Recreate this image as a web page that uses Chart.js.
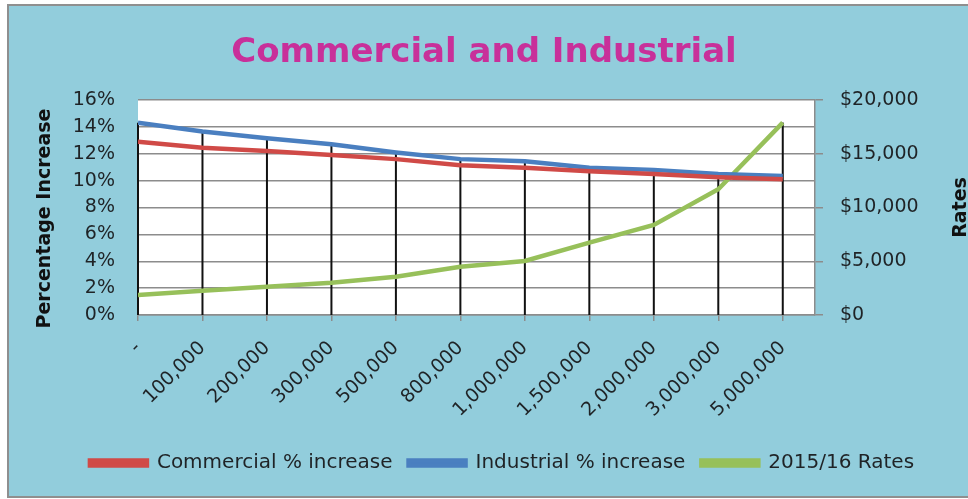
<!DOCTYPE html>
<html>
<head>
<meta charset="utf-8">
<script src="https://cdn.jsdelivr.net/npm/chart.js@4/dist/chart.umd.min.js"></script>
<style>
  html, body { margin: 0; padding: 0; background: #ffffff; }
  #wrap { position: relative; width: 968px; height: 499px; }
</style>
</head>
<body>
<div id="wrap"><canvas id="chart" width="968" height="499"></canvas></div>
<script>
const sizeBands = ['-', '100,000', '200,000', '300,000', '500,000', '800,000', '1,000,000', '1,500,000', '2,000,000', '3,000,000', '5,000,000'];
const commercialIncrease = [12.9, 12.45, 12.2, 11.9, 11.6, 11.15, 10.95, 10.7, 10.5, 10.25, 10.1];
const industrialIncrease = [14.3, 13.65, 13.15, 12.7, 12.1, 11.6, 11.45, 10.95, 10.8, 10.5, 10.35];
const rates201516 = [1850, 2250, 2630, 3000, 3550, 4480, 5030, 6730, 8370, 11700, 17900];
const percentTicks = [0, 2, 4, 6, 8, 10, 12, 14, 16];
const rateTicks = [0, 5000, 10000, 15000, 20000];

const tickFont = { family: 'DejaVu Sans', size: 19 };
const textColor = '#1f2326';
const gridGray = '#8c8c8c';

// paints the blue chart box and the white plot area
const backdrop = {
    id: 'backdrop',
    beforeDraw(chart) {
        const { ctx, chartArea } = chart;
        ctx.save();
        ctx.fillStyle = '#92cddc';
        ctx.fillRect(8, 5, 970, 492);
        ctx.strokeStyle = '#8f8f8f';
        ctx.lineWidth = 2;
        ctx.strokeRect(8, 5, 970, 492);
        ctx.fillStyle = '#ffffff';
        ctx.fillRect(chartArea.left, chartArea.top, chartArea.right - chartArea.left, chartArea.bottom - chartArea.top);
        ctx.restore();
    },
};

// Excel legend sits a bit right of centre
const legendShift = {
    id: 'legendShift',
    afterLayout(chart) {
        if (!chart.legend) return;
        chart.legend.left += 18;
        chart.legend.right += 18;
    },
};

// Excel style drop lines from the highest point at each category
const dropLines = {
    id: 'dropLines',
    beforeDatasetsDraw(chart) {
        const { ctx, chartArea } = chart;
        const metas = chart.getSortedVisibleDatasetMetas();
        ctx.save();
        ctx.strokeStyle = '#111111';
        ctx.lineWidth = 2;
        sizeBands.forEach((_, i) => {
            const pts = metas.map(m => m.data[i]).filter(Boolean);
            if (!pts.length) return;
            const top = Math.min(...pts.map(p => p.y));
            ctx.beginPath();
            ctx.moveTo(pts[0].x, top);
            ctx.lineTo(pts[0].x, chartArea.bottom);
            ctx.stroke();
        });
        ctx.restore();
    },
};

// both axis titles read bottom to top
const axisTitles = {
    id: 'axisTitles',
    afterDraw(chart) {
        const { ctx, chartArea } = chart;
        const midY = (chartArea.top + chartArea.bottom) / 2;
        ctx.save();
        ctx.fillStyle = '#111111';
        ctx.font = 'bold 19px "DejaVu Sans"';
        ctx.textAlign = 'center';
        ctx.textBaseline = 'middle';
        [['Percentage Increase', 45, midY + 11], ['Rates', 961, midY]].forEach(([text, x, y]) => {
            ctx.save();
            ctx.translate(x, y);
            ctx.rotate(-Math.PI / 2);
            ctx.fillText(text, 0, 0);
            ctx.restore();
        });
        ctx.restore();
    },
};

new Chart(document.getElementById('chart'), {
    type: 'line',
    data: {
        datasets: [
            {
                label: 'Commercial % increase',
                data: commercialIncrease.map((v, i) => ({ x: i, y: v })),
                borderColor: '#d04a47',
                backgroundColor: '#d04a47',
                borderWidth: 4.5,
                yAxisID: 'y',
            },
            {
                label: 'Industrial % increase',
                data: industrialIncrease.map((v, i) => ({ x: i, y: v })),
                borderColor: '#4a7fc0',
                backgroundColor: '#4a7fc0',
                borderWidth: 4.5,
                yAxisID: 'y',
            },
            {
                label: '2015/16 Rates',
                data: rates201516.map((v, i) => ({ x: i, y: v })),
                borderColor: '#97c05a',
                backgroundColor: '#97c05a',
                borderWidth: 4.5,
                yAxisID: 'y1',
            },
        ],
    },
    options: {
        responsive: false,
        animation: false,
        tension: 0,
        pointRadius: 0,
        pointHoverRadius: 0,
        layout: { padding: { top: 0, left: 0, right: 0, bottom: 16 } },
        plugins: {
            title: {
                display: true,
                text: 'Commercial and Industrial',
                color: '#c8309a',
                font: { family: 'DejaVu Sans', size: 34, weight: 'bold' },
                padding: { top: 33, bottom: 26.2 },
            },
            legend: {
                position: 'bottom',
                labels: {
                    color: textColor,
                    font: { family: 'DejaVu Sans', size: 20 },
                    boxWidth: 57,
                    boxHeight: 5,
                    padding: 16,
                },
            },
            tooltip: { enabled: false },
        },
        scales: {
            x: {
                type: 'linear',
                min: 0,
                max: 10.5,
                afterBuildTicks: s => { s.ticks = sizeBands.map((_, i) => ({ value: i })); },
                afterFit: s => { s.height = 122; },
                grid: { drawOnChartArea: false, drawTicks: true, tickLength: 6, color: gridGray, lineWidth: 1.5 },
                border: { color: gridGray, width: 1.5 },
                ticks: {
                    color: textColor,
                    font: tickFont,
                    minRotation: 45,
                    maxRotation: 45,
                    padding: 16,
                    autoSkip: false,
                    callback: v => sizeBands[v],
                },
            },
            y: {
                position: 'left',
                min: 0,
                max: 16,
                afterBuildTicks: s => { s.ticks = percentTicks.map(v => ({ value: v })); },
                afterFit: s => { s.width = 138; },
                grid: { color: gridGray, lineWidth: 1.5, drawTicks: false },
                border: { display: false },
                ticks: {
                    color: textColor,
                    font: tickFont,
                    padding: 23,
                    callback: v => v + '%',
                },
            },
            y1: {
                position: 'right',
                min: 0,
                max: 20000,
                afterBuildTicks: s => { s.ticks = rateTicks.map(v => ({ value: v })); },
                afterFit: s => { s.width = 153; },
                grid: { drawOnChartArea: false, drawTicks: true, tickLength: 8, color: gridGray, lineWidth: 1.5 },
                border: { color: gridGray, width: 1.5 },
                ticks: {
                    color: textColor,
                    font: tickFont,
                    padding: 17,
                    callback: v => '$' + v.toLocaleString('en-US'),
                },
            },
        },
    },
    plugins: [backdrop, legendShift, dropLines, axisTitles],
});
</script>
</body>
</html>
